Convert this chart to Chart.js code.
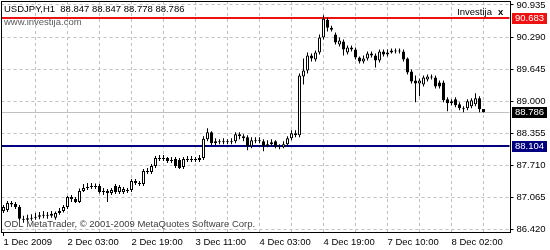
<!DOCTYPE html>
<html>
<head>
<meta charset="utf-8">
<script src="https://cdn.jsdelivr.net/npm/chart.js@4.4.1/dist/chart.umd.min.js"></script>
<style>
  html, body { margin: 0; padding: 0; background: #fff; }
  #wrap { width: 550px; height: 250px; }
</style>
</head>
<body>
<div id="wrap"><canvas id="chart" width="550" height="250"></canvas></div>
<script>
// USDJPY H1 candles, 1 Dec 2009 11:00 onwards
const opens = [
  86.80, 86.82, 86.96, 86.94, 86.88, 86.64, 86.62, 86.64, 86.66, 86.68,
  86.70, 86.72, 86.70, 86.66, 86.76, 86.80, 86.88, 87.08, 87.04, 86.98,
  87.20, 87.26, 87.28, 87.30, 87.30, 87.18, 87.20, 87.16, 87.30, 87.18,
  87.18, 87.22, 87.22, 87.40, 87.36, 87.34, 87.60, 87.58, 87.70, 87.86,
  87.84, 87.86, 87.80, 87.84, 87.82, 87.68, 87.84, 87.82, 87.84, 87.82,
  87.86, 88.24, 88.38, 88.16, 88.20, 88.18, 88.20, 88.18, 88.20, 88.34,
  88.30, 88.28, 88.10, 88.22, 88.20, 88.20, 88.10, 88.14, 88.20, 88.10,
  88.08, 88.14, 88.26, 88.36, 88.32, 89.50, 89.62, 89.92, 89.84, 89.98,
  90.28, 90.64, 90.48, 90.34, 90.14, 90.20, 89.98, 90.08, 90.04, 89.88,
  89.80, 89.86, 89.96, 89.92, 89.82, 90.00, 89.94, 89.98, 90.02, 90.00,
  90.00, 89.86, 89.60, 89.42, 89.36, 89.34, 89.44, 89.50, 89.48, 89.38,
  89.38, 89.04, 88.96, 89.04, 88.94, 88.86, 88.86, 88.90, 88.94, 89.06,
  88.847
];
const highs = [
  86.92, 87.00, 87.00, 86.98, 86.92, 86.70, 86.72, 86.73, 86.76, 86.78,
  86.80, 86.78, 86.80, 86.79, 86.86, 86.92, 87.10, 87.12, 87.08, 87.25,
  87.34, 87.36, 87.36, 87.35, 87.34, 87.26, 87.24, 87.26, 87.34, 87.32,
  87.28, 87.26, 87.44, 87.44, 87.40, 87.64, 87.66, 87.74, 87.90, 87.92,
  87.92, 87.88, 87.88, 87.88, 87.86, 87.88, 87.90, 87.90, 87.88, 87.92,
  88.30, 88.46, 88.40, 88.26, 88.24, 88.26, 88.24, 88.26, 88.38, 88.38,
  88.34, 88.32, 88.28, 88.28, 88.28, 88.24, 88.22, 88.24, 88.22, 88.14,
  88.20, 88.30, 88.42, 88.42, 89.56, 89.86, 89.98, 89.96, 90.02, 90.34,
  90.73, 90.68, 90.52, 90.38, 90.28, 90.24, 90.12, 90.12, 90.08, 89.90,
  89.92, 90.00, 90.00, 89.96, 90.04, 90.04, 90.04, 90.06, 90.06, 90.06,
  90.04, 89.88, 89.64, 89.52, 89.46, 89.52, 89.54, 89.54, 89.52, 89.42,
  89.42, 89.08, 89.04, 89.08, 88.98, 88.90, 89.04, 89.06, 89.16, 89.10,
  88.847
];
const lows = [
  86.76, 86.78, 86.88, 86.84, 86.60, 86.56, 86.58, 86.60, 86.62, 86.63,
  86.65, 86.64, 86.66, 86.62, 86.72, 86.77, 86.84, 86.98, 86.96, 86.96,
  87.18, 87.22, 87.24, 87.24, 87.15, 87.12, 86.98, 87.12, 87.14, 87.14,
  87.14, 87.16, 87.18, 87.32, 87.30, 87.30, 87.54, 87.54, 87.66, 87.80,
  87.80, 87.76, 87.76, 87.66, 87.64, 87.64, 87.78, 87.78, 87.78, 87.78,
  87.82, 88.20, 88.12, 88.12, 88.14, 88.14, 88.14, 88.14, 88.16, 88.24,
  88.20, 88.02, 88.06, 88.16, 88.16, 88.00, 88.08, 88.10, 88.06, 88.04,
  88.06, 88.10, 88.22, 88.28, 88.28, 89.34, 89.56, 89.80, 89.80, 89.94,
  90.24, 90.40, 90.40, 90.14, 90.10, 89.92, 89.94, 90.00, 89.84, 89.76,
  89.76, 89.82, 89.88, 89.68, 89.78, 89.90, 89.90, 89.96, 89.96, 89.96,
  89.80, 89.54, 89.36, 88.98, 89.10, 89.30, 89.40, 89.44, 89.26, 89.26,
  88.98, 88.80, 88.92, 88.88, 88.82, 88.78, 88.82, 88.86, 88.90, 88.78,
  88.778
];
const closes = [
  86.88, 86.96, 86.93, 86.88, 86.64, 86.62, 86.65, 86.66, 86.68, 86.71,
  86.72, 86.70, 86.74, 86.76, 86.80, 86.88, 87.08, 87.04, 86.98, 87.20,
  87.26, 87.28, 87.30, 87.28, 87.18, 87.20, 87.16, 87.22, 87.18, 87.28,
  87.24, 87.20, 87.40, 87.36, 87.34, 87.60, 87.58, 87.70, 87.86, 87.84,
  87.86, 87.80, 87.82, 87.70, 87.66, 87.84, 87.82, 87.84, 87.82, 87.86,
  88.25, 88.38, 88.16, 88.20, 88.18, 88.20, 88.18, 88.20, 88.34, 88.30,
  88.26, 88.10, 88.22, 88.20, 88.22, 88.10, 88.14, 88.18, 88.10, 88.08,
  88.14, 88.26, 88.36, 88.32, 89.52, 89.62, 89.92, 89.86, 89.98, 90.28,
  90.66, 90.48, 90.44, 90.18, 90.22, 90.04, 90.08, 90.04, 89.88, 89.80,
  89.86, 89.96, 89.92, 89.82, 90.00, 89.94, 89.98, 90.02, 90.00, 90.02,
  89.84, 89.58, 89.40, 89.36, 89.42, 89.48, 89.50, 89.48, 89.30, 89.30,
  89.02, 88.96, 89.00, 88.92, 88.86, 88.84, 89.00, 89.02, 89.06, 88.84,
  88.786
];

const tickLabels = ['1 Dec 2009', '2 Dec 03:00', '2 Dec 19:00', '3 Dec 11:00',
                    '4 Dec 03:00', '4 Dec 19:00', '7 Dec 10:00', '8 Dec 02:00'];
const yTicks = [86.420, 87.065, 87.710, 88.355, 89.000, 89.645, 90.290, 90.935];

// horizontal objects: resistance, support, last bid
const levelValues = [90.683, 88.104, 88.786];
const levelColors = ['#ee1111', '#000080', '#000000'];
const levelLineColors = ['#ee1111', '#000080', '#c0c0c0'];
const levelLineWidths = [2, 2, 1];

const SLOTS = 127;      // bar slots incl. chart shift on the right
const BARS_PER_LABEL = 16;
const FONT = 'Liberation Sans';

const labels = Array.from({ length: SLOTS }, (_, i) => i);

const overlay = {
  id: 'overlay',
  beforeDatasetsDraw(chart) {
    const { ctx, chartArea: a, scales: { y } } = chart;
    ctx.save();
    levelValues.forEach((v, k) => {
      const py = Math.round(y.getPixelForValue(v));
      const w = levelLineWidths[k];
      ctx.fillStyle = levelLineColors[k];
      ctx.fillRect(a.left, py - Math.floor(w / 2), a.right - a.left, w);
    });
    ctx.restore();
  },
  afterDraw(chart) {
    const { ctx, scales: { y } } = chart;
    ctx.save();
    // frame
    ctx.strokeStyle = '#000';
    ctx.lineWidth = 1;
    ctx.strokeRect(1.5, 1.5, 509, 231);

    ctx.textBaseline = 'middle';
    ctx.textAlign = 'left';
    ctx.font = `9.5px "${FONT}"`;
    ctx.fillStyle = '#000';
    ctx.fillText('USDJPY,H1  88.847 88.847 88.778 88.786', 4, 9);
    ctx.fillStyle = '#5a5a5a';
    ctx.fillText('www.investija.com', 4, 22);
    ctx.fillStyle = '#404040';
    ctx.fillText('ODL MetaTrader, \u00a9 2001-2009 MetaQuotes Software Corp.', 4, 224);

    ctx.fillStyle = '#000';
    ctx.textAlign = 'right';
    ctx.fillText('Investija', 492, 12);
    ctx.font = `bold 9.5px "${FONT}"`;
    ctx.textAlign = 'left';
    ctx.fillText('x', 498, 12);

    // price boxes on the axis
    ctx.font = `9.5px "${FONT}"`;
    levelValues.forEach((v, k) => {
      const py = Math.round(y.getPixelForValue(v));
      ctx.fillStyle = levelColors[k];
      ctx.fillRect(512, py - 5, 35, 11);
      ctx.fillStyle = '#fff';
      ctx.fillText(v.toFixed(3), 515, py + 0.5);
    });
    ctx.restore();
  }
};

new Chart(document.getElementById('chart'), {
  type: 'bar',
  data: {
    labels,
    datasets: [
      {
        label: 'body',
        data: opens.map((o, i) => [o, closes[i]]),
        backgroundColor: opens.map((o, i) => closes[i] >= o ? '#ffffff' : '#000000'),
        borderColor: '#000',
        borderWidth: 1,
        borderSkipped: false,
        barThickness: 3,
        inflateAmount: 0,
        grouped: false,
        order: 1
      },
      {
        label: 'wick',
        data: lows.map((l, i) => [l, highs[i]]),
        backgroundColor: '#000',
        borderWidth: 0,
        barThickness: 1,
        inflateAmount: 0,
        grouped: false,
        order: 2
      }
    ]
  },
  options: {
    responsive: false,
    animation: false,
    devicePixelRatio: 1,
    layout: { autoPadding: false, padding: { left: 1.5, top: 1, right: 0, bottom: 0 } },
    plugins: { legend: { display: false }, tooltip: { enabled: false } },
    scales: {
      x: {
        type: 'category',
        offset: true,
        grid: {
          offset: false,
          color: ctx => ctx.index === 0 ? 'rgba(0,0,0,0)' : '#c0c0c0',
          tickColor: ctx => ctx.index % BARS_PER_LABEL === 0 ? '#000' : 'rgba(0,0,0,0)',
          tickLength: 4,
          tickBorderDash: [4, 0]
        },
        border: { display: false, dash: [3, 3] },
        ticks: {
          autoSkip: false,
          maxRotation: 0,
          minRotation: 0,
          align: 'start',
          padding: 1,
          color: '#000',
          font: { family: FONT, size: 9.5 },
          callback: (v, i) => i % BARS_PER_LABEL === 0 ? tickLabels[i / BARS_PER_LABEL]
                             : (i % 8 === 0 ? '' : null)
        },
        afterFit: s => { s.height = 18; s.paddingLeft = 0; s.paddingRight = 0; }
      },
      y: {
        position: 'right',
        min: 86.376,
        max: 91.015,
        afterBuildTicks: s => { s.ticks = yTicks.map(v => ({ value: v })); },
        grid: {
          color: '#c0c0c0',
          tickColor: '#000',
          tickLength: 4,
          tickBorderDash: [4, 0]
        },
        border: { display: false, dash: [3, 3] },
        ticks: {
          color: '#000',
          padding: 3,
          font: { family: FONT, size: 9.5 },
          callback: v => Number(v).toFixed(3)
        },
        afterFit: s => { s.width = 40.5; s.paddingTop = 0; s.paddingBottom = 0; }
      }
    }
  },
  plugins: [overlay]
});
</script>
</body>
</html>
